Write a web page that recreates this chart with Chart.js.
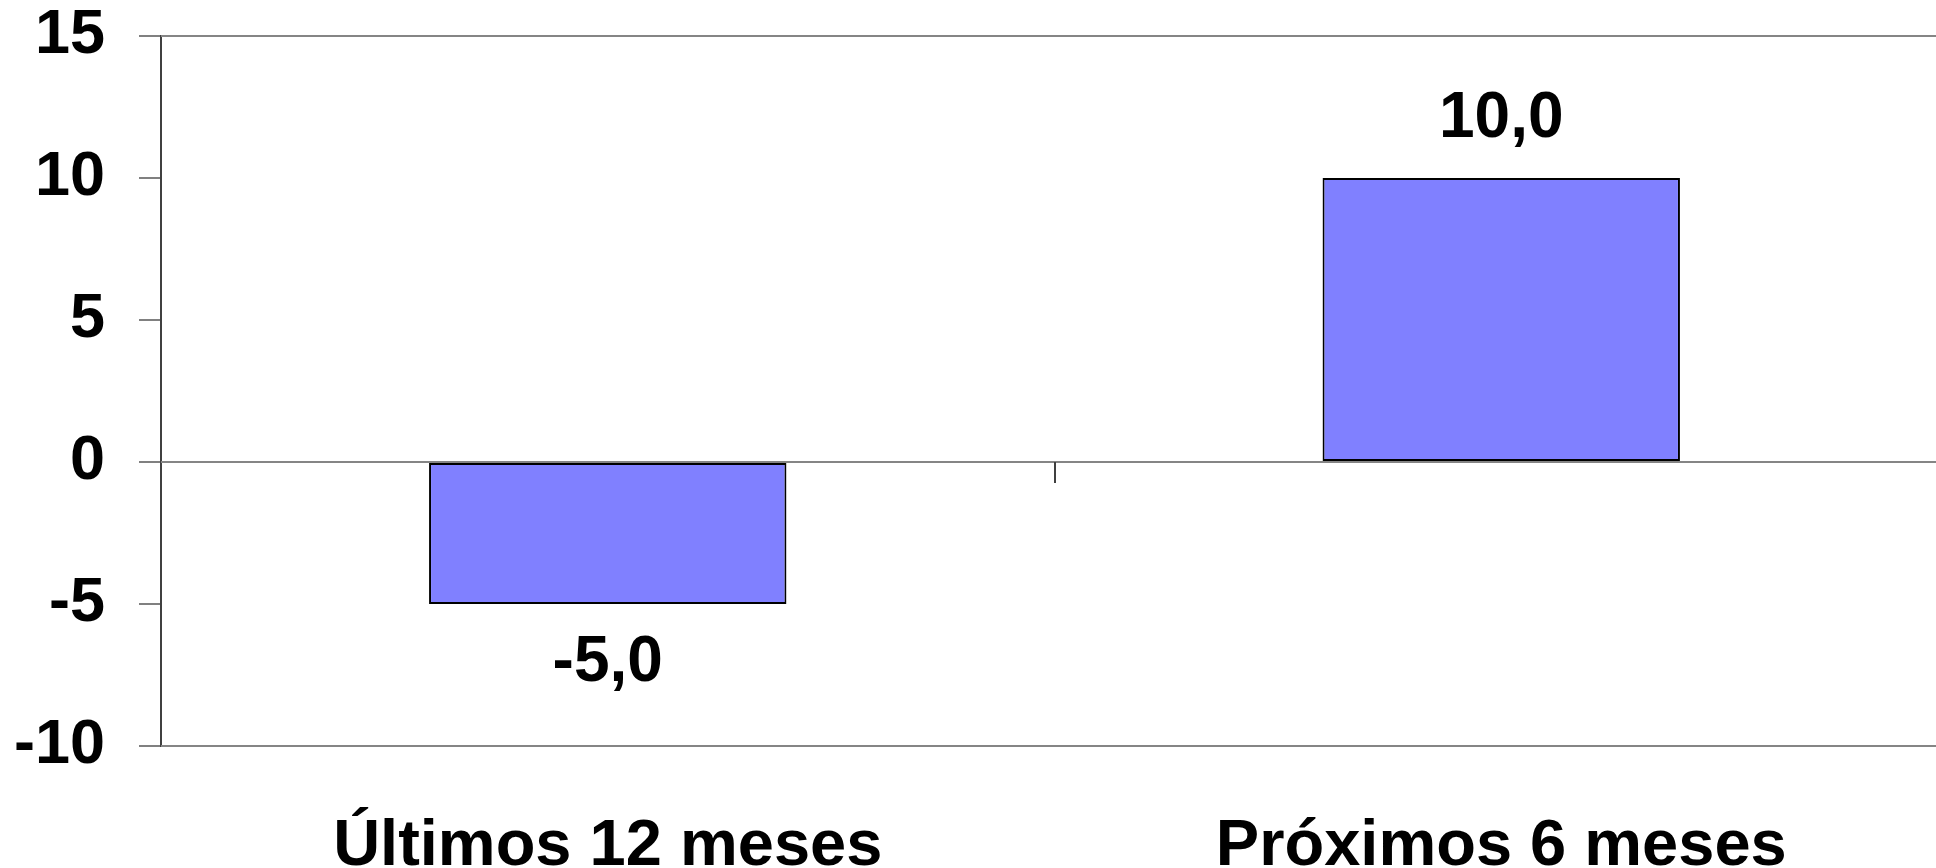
<!DOCTYPE html>
<html>
<head>
<meta charset="utf-8">
<script src="https://cdn.jsdelivr.net/npm/chart.js@4"></script>
<style>
  html, body { margin: 0; padding: 0; background: #fff; overflow: hidden; }
  #wrap { width: 1948px; height: 868px; }
</style>
</head>
<body>
<div id="wrap"><canvas id="balanceChart"></canvas></div>
<script>
// Chart data
const categories = ["Últimos 12 meses", "Próximos 6 meses"];
const values = [-5.0, 10.0];
const yTicks = [-10, -5, 0, 5, 10, 15];
const fullLines = [15, 0, -10];

const FONT = "'Liberation Sans', Arial, sans-serif";

// Lines across the plot and the category divider tick on the zero line
const axisLines = {
  id: "axisLines",
  beforeDatasetsDraw(chart) {
    const { ctx, chartArea, scales } = chart;
    ctx.save();
    ctx.strokeStyle = "#858585";
    ctx.lineWidth = 2;
    fullLines.forEach(function (v) {
      const y = Math.round(scales.y.getPixelForValue(v));
      ctx.beginPath();
      ctx.moveTo(chartArea.left, y);
      ctx.lineTo(chartArea.right, y);
      ctx.stroke();
    });
    // divider between the two categories
    const zeroY = scales.y.getPixelForValue(0);
    for (let i = 1; i < categories.length; i++) {
      const x = Math.round((scales.x.getPixelForValue(i - 1) + scales.x.getPixelForValue(i)) / 2);
      ctx.strokeStyle = "#404040";
      ctx.beginPath();
      ctx.moveTo(x, zeroY);
      ctx.lineTo(x, zeroY + 21);
      ctx.stroke();
    }
    ctx.restore();
  },
};

// Value labels above / below bars
const valueLabels = {
  id: "valueLabels",
  afterDatasetsDraw(chart) {
    const { ctx } = chart;
    const meta = chart.getDatasetMeta(0);
    ctx.save();
    ctx.font = "bold 64px " + FONT;
    ctx.fillStyle = "#000";
    ctx.textAlign = "center";
    ctx.textBaseline = "middle";
    meta.data.forEach(function (bar, i) {
      const v = values[i];
      const y = v >= 0 ? bar.y - 59 : bar.y + 59;
      ctx.fillText(v.toFixed(1).replace(".", ","), bar.x, y);
    });
    ctx.restore();
  },
};

document.addEventListener("DOMContentLoaded", function () {
  const ctx = document.getElementById("balanceChart").getContext("2d");

  const chart = new Chart(ctx, {
    type: "bar",
    data: {
      labels: categories,
      datasets: [
        {
          data: values,
          backgroundColor: "#8080FF",
          borderColor: "#000000",
          borderWidth: 2,
          borderSkipped: false,
          categoryPercentage: 1.0,
          barPercentage: 0.4,
        },
      ],
    },
    options: {
      responsive: true,
      maintainAspectRatio: false,
      animation: false,
      events: [],
      layout: { padding: { top: 36, right: 0, bottom: 0, left: 0 } },
      plugins: {
        legend: { display: false },
        tooltip: { enabled: false },
      },
      scales: {
        x: {
          grid: { display: false },
          border: { display: false },
          ticks: {
            color: "#000",
            padding: 54,
            maxRotation: 0,
            font: { family: FONT, size: 65, weight: "bold" },
          },
          afterFit: function (scale) {
            scale.height = 122;
            scale.paddingLeft = 0;
            scale.paddingRight = 0;
          },
        },
        y: {
          min: yTicks[0],
          max: yTicks[yTicks.length - 1],
          afterBuildTicks: function (scale) {
            scale.ticks = yTicks.map(function (v) { return { value: v }; });
          },
          grid: {
            drawOnChartArea: false,
            drawTicks: true,
            tickLength: 22,
            color: "#808080",
            lineWidth: 2,
          },
          border: { display: true, color: "#404040", width: 2 },
          ticks: {
            color: "#000",
            padding: 34,
            font: { family: FONT, size: 63, weight: "bold", lineHeight: 1 },
          },
          afterFit: function (scale) {
            scale.width = 161;
            scale.paddingTop = 0;
            scale.paddingBottom = 0;
          },
        },
      },
    },
    plugins: [axisLines, valueLabels],
  });
});
</script>
</body>
</html>
